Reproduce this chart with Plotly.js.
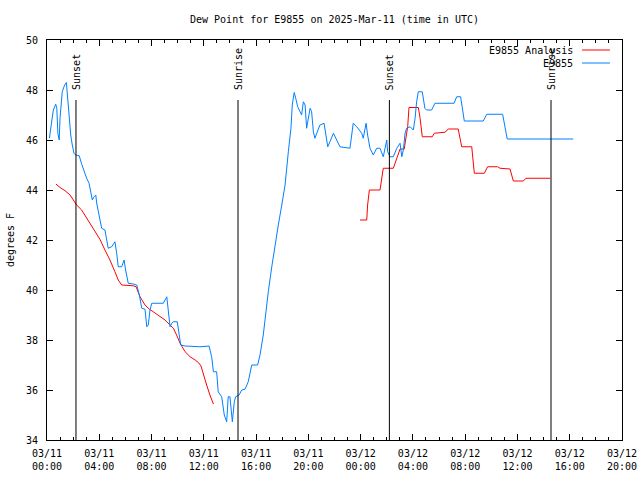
<!DOCTYPE html>
<html>
<head>
<meta charset="utf-8">
<script src="https://cdn.plot.ly/plotly-3.0.1.min.js"></script>
<style>html,body{margin:0;padding:0;background:#fff;}#chart{width:640px;height:480px;}</style>
</head>
<body>
<div id="chart"></div>
<script>
// ---- Data (times in UTC, 2025) ----
const observedName = 'E9855';
const analysisName = 'E9855 Analysis';

const observedTimes = [
 '03-11 00:11','03-11 00:20','03-11 00:29','03-11 00:40','03-11 00:45','03-11 00:50','03-11 00:56','03-11 01:00',
 '03-11 01:10','03-11 01:21','03-11 01:29','03-11 01:33','03-11 01:41','03-11 01:49','03-11 01:56','03-11 02:04',
 '03-11 02:12','03-11 02:28','03-11 02:38','03-11 02:50','03-11 03:02','03-11 03:13','03-11 03:21','03-11 03:28',
 '03-11 03:36','03-11 03:44','03-11 03:48','03-11 04:03','03-11 04:11','03-11 04:26','03-11 04:34','03-11 04:41',
 '03-11 04:57','03-11 05:12','03-11 05:20','03-11 05:27','03-11 05:43','03-11 05:54','03-11 06:01','03-11 06:13',
 '03-11 06:36','03-11 06:52','03-11 07:04','03-11 07:15','03-11 07:30','03-11 07:38','03-11 07:45','03-11 07:53',
 '03-11 08:01','03-11 08:54','03-11 09:10','03-11 09:17','03-11 09:25','03-11 09:33','03-11 09:40','03-11 09:58',
 '03-11 10:06','03-11 10:14','03-11 10:34','03-11 11:42','03-11 12:24','03-11 12:36','03-11 12:44','03-11 12:59',
 '03-11 13:06','03-11 13:22','03-11 13:34','03-11 13:45','03-11 13:52','03-11 14:00','03-11 14:11','03-11 14:20',
 '03-11 14:26','03-11 14:42','03-11 14:54','03-11 15:09','03-11 15:24','03-11 15:40','03-11 16:07','03-11 16:18',
 '03-11 16:33','03-11 16:41','03-11 16:56','03-11 17:12','03-11 17:27','03-11 17:42','03-11 17:58','03-11 18:13',
 '03-11 18:28','03-11 18:40','03-11 18:46','03-11 18:55','03-11 19:02','03-11 19:11','03-11 19:22','03-11 19:29',
 '03-11 19:37','03-11 19:45','03-11 19:52','03-11 20:00','03-11 20:08','03-11 20:15','03-11 20:23','03-11 20:30',
 '03-11 20:38','03-11 20:53','03-11 21:12','03-11 21:20','03-11 21:29','03-11 21:39','03-11 21:55','03-11 22:10',
 '03-11 22:25','03-11 23:11','03-11 23:19','03-11 23:26','03-11 23:42','03-12 00:05','03-12 00:12','03-12 00:25',
 '03-12 00:32','03-12 00:43','03-12 00:58','03-12 01:14','03-12 01:29','03-12 01:44','03-12 02:00','03-12 02:04',
 '03-12 02:15','03-12 02:30','03-12 02:46','03-12 03:01','03-12 03:09','03-12 03:16','03-12 03:24','03-12 03:31',
 '03-12 03:47','03-12 04:02','03-12 04:10','03-12 04:17','03-12 04:25','03-12 04:43','03-12 04:55','03-12 05:03',
 '03-12 05:26','03-12 05:41','03-12 07:09','03-12 07:21','03-12 07:39','03-12 07:51','03-12 07:56','03-12 09:23',
 '03-12 09:39','03-12 10:52','03-12 11:03','03-12 11:13','03-12 16:16'
];
const observedValues = [
 46.07,46.6,47.2,47.43,47.27,46.27,46.0,46.9,
 47.93,48.2,48.3,47.88,47.0,46.2,45.8,45.47,
 45.4,45.37,45.07,44.73,44.47,44.27,43.87,43.6,
 43.73,43.8,43.48,42.83,42.47,42.4,42.0,41.67,
 41.73,41.93,41.47,40.93,40.93,41.2,40.8,40.27,
 40.24,40.2,39.8,39.27,39.23,38.53,38.6,39.2,
 39.47,39.47,39.73,39.13,38.53,38.67,38.73,38.73,
 38.27,37.8,37.76,37.73,37.76,37.33,36.73,36.73,
 35.93,35.73,35.0,34.73,35.73,35.73,34.73,35.53,
 35.73,35.8,36.0,36.03,36.33,37.0,37.0,37.4,
 38.2,38.87,39.93,40.93,41.87,42.6,43.4,44.2,
 45.53,46.47,47.4,47.9,47.67,47.33,47.13,47.0,
 47.53,47.4,46.47,46.87,47.27,47.13,46.33,46.07,
 46.27,46.6,46.67,46.2,45.73,45.93,46.27,46.0,
 45.73,45.67,46.33,46.67,46.53,46.27,46.07,46.67,
 46.2,45.67,45.4,45.67,45.67,45.33,46.0,45.53,
 45.33,45.33,45.67,45.87,45.33,45.6,46.27,46.47,
 46.53,46.4,46.87,47.53,47.93,47.93,47.27,47.2,
 47.2,47.47,47.47,47.73,47.73,47.13,46.76,46.76,
 47.03,47.03,46.47,46.04,46.04
];

const analysisTimes = [
 '03-11 00:41','03-11 01:00','03-11 01:23','03-11 01:46','03-11 02:01','03-11 02:16','03-11 02:39','03-11 03:02',
 '03-11 04:03','03-11 04:26','03-11 04:49','03-11 05:12','03-11 05:27','03-11 05:43','03-11 06:36','03-11 06:49',
 '03-11 07:07','03-11 07:30','03-11 07:50','03-11 08:08','03-11 08:39','03-11 09:02','03-11 09:25','03-11 09:40',
 '03-11 09:55','03-11 10:11','03-11 10:34','03-11 10:57','03-11 11:20','03-11 11:35','03-11 11:47','03-11 11:58',
 '03-11 12:13','03-11 12:28','03-11 12:44',
 '03-11 18:00',
 '03-11 23:57','03-12 00:28','03-12 00:32','03-12 00:40','03-12 01:29','03-12 01:37','03-12 01:44','03-12 02:30',
 '03-12 02:46','03-12 03:01','03-12 03:20','03-12 03:27','03-12 03:36','03-12 03:42','03-12 04:25','03-12 04:33',
 '03-12 04:40','03-12 04:43','03-12 05:29','03-12 05:38','03-12 06:27','03-12 06:43','03-12 07:28','03-12 07:36',
 '03-12 07:44','03-12 08:30','03-12 08:37','03-12 08:42','03-12 09:28','03-12 09:43','03-12 10:29','03-12 10:40',
 '03-12 11:26','03-12 11:34','03-12 11:41','03-12 12:27','03-12 12:39','03-12 14:30'
];
const analysisValues = [
 44.24,44.1,43.97,43.8,43.6,43.4,43.2,42.87,
 42.03,41.6,41.2,40.73,40.4,40.2,40.17,40.13,
 39.73,39.4,39.23,39.13,38.96,38.8,38.6,38.47,
 38.2,37.87,37.53,37.33,37.2,37.1,36.96,36.6,
 36.2,35.8,35.44,
 null,
 42.8,42.8,43.4,44.0,44.0,44.6,44.87,44.87,
 45.27,45.64,45.64,46.07,46.53,47.3,47.3,46.87,
 46.4,46.13,46.13,46.27,46.31,46.44,46.44,46.13,
 45.73,45.73,45.2,44.67,44.67,44.93,44.93,44.87,
 44.84,44.6,44.36,44.36,44.47,44.47
];

const sunEventTimes = ['03-11 02:13','03-11 14:37','03-12 02:12','03-12 14:34'];
const sunEventLabels = ['Sunset','Sunrise','Sunset','Sunrise'];

const xTickTimes = ['03-11 00:00','03-11 04:00','03-11 08:00','03-11 12:00','03-11 16:00','03-11 20:00',
                    '03-12 00:00','03-12 04:00','03-12 08:00','03-12 12:00','03-12 16:00','03-12 20:00'];
const xTickLabels = ['03/11<br>00:00','03/11<br>04:00','03/11<br>08:00','03/11<br>12:00','03/11<br>16:00','03/11<br>20:00',
                     '03/12<br>00:00','03/12<br>04:00','03/12<br>08:00','03/12<br>12:00','03/12<br>16:00','03/12<br>20:00'];

const chartTitle = 'Dew Point for E9855 on 2025-Mar-11 (time in UTC)';
const yTitle = 'degrees F';
const yRange = [34, 50];

// ---- Rendering ----
const toDate = s => '2025-' + s;
const FONT = {family: 'DejaVu Sans Mono, monospace', size: 10, color: '#000'};
const RED = '#ff0000', BLUE = '#0080ff';

const traces = [
  {x: analysisTimes.map(toDate), y: analysisValues, type: 'scatter', mode: 'lines',
   name: analysisName, line: {color: RED, width: 1}, connectgaps: false, showlegend: false},
  {x: observedTimes.map(toDate), y: observedValues, type: 'scatter', mode: 'lines',
   name: observedName, line: {color: BLUE, width: 1}, showlegend: false}
];

const shapes = sunEventTimes.map(t => ({
  type: 'line', xref: 'x', yref: 'y', x0: toDate(t), x1: toDate(t), y0: yRange[0], y1: 47.6,
  line: {color: '#000', width: 1}
}));

const annotations = sunEventTimes.map((t, i) => ({
  x: toDate(t), y: 47.92, xref: 'x', yref: 'y', text: sunEventLabels[i], textangle: -90,
  showarrow: false, xanchor: 'center', yanchor: 'bottom', font: FONT
}));

// manual gnuplot-style key (text, then line sample on the right)
const key = [[analysisName, RED, 0.975], [observedName, BLUE, 0.9425]];
key.forEach(([name, color, yy]) => {
  annotations.push({x: 0.918, y: yy, xref: 'paper', yref: 'paper', text: name, showarrow: false,
    xanchor: 'right', yanchor: 'middle', font: FONT});
  shapes.push({type: 'line', xref: 'paper', yref: 'paper', x0: 0.9304, x1: 0.979, y0: yy, y1: yy,
    line: {color: color, width: 1}});
});

const layout = {
  width: 640, height: 480,
  margin: {l: 47, r: 18, t: 40, b: 40, pad: 0},
  paper_bgcolor: '#fff', plot_bgcolor: '#fff',
  font: FONT,
  showlegend: false,
  title: {text: chartTitle, font: FONT, xref: 'paper', x: 0.5, xanchor: 'center',
          yref: 'container', y: 1 - 19/480, yanchor: 'middle'},
  xaxis: {
    type: 'date', range: [toDate('03-11 00:00'), toDate('03-12 20:00')],
    tickmode: 'array', tickvals: xTickTimes.map(toDate), ticktext: xTickLabels,
    ticks: 'inside', ticklen: 6, tickcolor: '#000', tickwidth: 1,
    minor: {tickmode: 'linear', tick0: toDate('03-11 00:00'), dtick: 3600000, ticks: 'inside', ticklen: 3, tickcolor: '#000', showgrid: false},
    showline: true, linecolor: '#000', linewidth: 1, mirror: 'ticks',
    showgrid: false, zeroline: false, tickfont: FONT, ticklabelstandoff: 4
  },
  yaxis: {
    range: yRange, dtick: 2, tick0: 34,
    ticks: 'inside', ticklen: 6, tickcolor: '#000', tickwidth: 1,
    showline: true, linecolor: '#000', linewidth: 1, mirror: 'ticks',
    showgrid: false, zeroline: false, tickfont: FONT, ticklabelstandoff: 6,
    title: {text: yTitle, font: FONT, standoff: 9}
  },
  shapes: shapes,
  annotations: annotations
};

Plotly.newPlot('chart', traces, layout, {staticPlot: true, displayModeBar: false});
</script>
</body>
</html>
